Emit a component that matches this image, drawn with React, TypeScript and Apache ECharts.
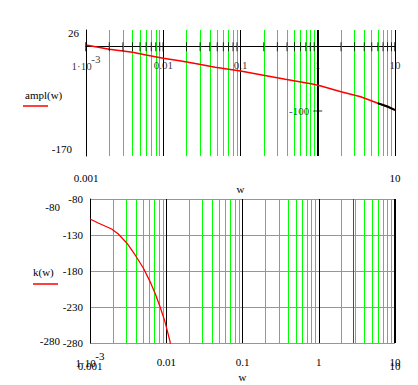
import React, { useEffect, useRef } from 'react';
import * as echarts from 'echarts';

// ---- data ----
const decadeStarts = [0.001, 0.01, 0.1, 1];
const decadeLabels = [0.001, 0.01, 0.1, 1, 10];
const minorSteps = [2, 3, 4, 5, 6, 7, 8, 9];
const blackLinesTop = [0.01, 0.1, 10];
const axisCrossW = 1;
const blackLinesBottom = [0.01, 0.1, 1];
const rightEdgeW = 10;
const markerW = 2.8;

const amplW = [0.001, 0.002, 0.003, 0.004, 0.006, 0.01, 0.017, 0.027, 0.047, 0.1, 0.19, 0.38, 0.85, 1.1, 2, 3.6, 6, 10];
const amplV = [2.7, -4, -6.7, -8.7, -12.9, -18, -22.2, -26.4, -32, -37.8, -44, -50.7, -58, -61.1, -70, -77.7, -88, -98];
const amplBlackW = [6, 8, 10];
const amplBlackV = [-88, -93, -98.5];

const phaseW = [0.001, 0.00128, 0.00192, 0.00235, 0.00303, 0.00389, 0.005, 0.00611, 0.00711, 0.00827, 0.0096, 0.0112, 0.0116];
const phaseV = [-107.8, -113.3, -121.7, -128.6, -141.1, -157.4, -175.8, -194.4, -210.6, -229.2, -250, -277.8, -288];

const amplYMax = 26;
const amplYMin = -170;
const amplMidTick = -100;
const phaseYMax = -80;
const phaseYMin = -280;
const phaseYLabels = [-80, -130, -180, -230, -280];
const xEndLabels = [0.001, 10];

const FONT = 'Liberation Serif';
const FS = 11;
const GREEN = '#00ff00';
const RED = '#ff0000';

const isMin = (v: number) => Math.abs(v - 0.001) < 1e-9;
const fmt = (v: number) => String(Number(v.toPrecision(6)));

const rich = {
  s: { width: 29, align: 'right', lineHeight: 1, fontSize: FS, fontFamily: FONT, color: '#000' },
  b: { width: 29, align: 'left', lineHeight: 13, fontSize: FS, fontFamily: FONT, color: '#000' },
  n: { lineHeight: 13, fontSize: FS, fontFamily: FONT, color: '#000' },
};
const decadeFormatter = (v: number) => (isMin(v) ? '{s|-3}\n{b|1·10}' : '{n|' + fmt(v) + '}');

export default function App() {
  const ref = useRef<HTMLDivElement>(null);
  useEffect(() => {
    const chart = echarts.init(ref.current!, null, { renderer: 'svg' });
    const minorW = decadeStarts.flatMap((d) => minorSteps.map((m) => Number((d * m).toPrecision(3))));
    const allGridW = [...decadeStarts, ...minorW, rightEdgeW];

    const txt = { fontFamily: FONT, fontSize: FS, color: '#000' };
    const font = `${FS}px "${FONT}"`;

    const topLines = [
      ...minorW.map((w) => ({ xAxis: w, lineStyle: { color: GREEN, width: 1, type: 'solid' } })),
      ...blackLinesTop.map((w) => ({ xAxis: w, lineStyle: { color: '#000', width: 1, type: 'solid' } })),
      { xAxis: axisCrossW, lineStyle: { color: '#000', width: 2, type: 'solid' } },
    ];
    const bottomLines = [
      ...minorW.map((w) => ({ xAxis: w, lineStyle: { color: GREEN, width: 1, type: 'solid' } })),
      ...blackLinesBottom.map((w) => ({ xAxis: w, lineStyle: { color: '#000', width: 1, type: 'solid' } })),
      { xAxis: rightEdgeW, lineStyle: { color: '#000', width: 2, type: 'solid' } },
      { xAxis: markerW, lineStyle: { color: RED, width: 1, type: 'solid' } },
    ];

    const logX = { type: 'log', logBase: 10, min: 0.001, max: 10 };
    const limitText = (value: number, right: number, cy: number) => ({
      type: 'text', x: right, y: cy,
      style: { text: String(value), font, fill: '#000', align: 'right', verticalAlign: 'middle' },
    });

    chart.setOption({
      animation: false,
      grid: [
        { left: 86, top: 30, width: 309, height: 126 },
        { left: 90, top: 199, width: 305, height: 144 },
      ],
      xAxis: [
        {
          ...logX, gridIndex: 0, position: 'bottom',
          axisLine: { show: true, onZero: true, lineStyle: { color: '#000', width: 1 } },
          axisTick: { show: false }, splitLine: { show: false },
          axisLabel: { show: false },
        },
        {
          ...logX, gridIndex: 0, position: 'bottom',
          axisLine: { show: false, onZero: false }, axisTick: { show: false }, splitLine: { show: false },
          axisLabel: { ...txt, margin: 16, customValues: xEndLabels, formatter: (v: number) => fmt(v) },
          name: 'w', nameLocation: 'middle', nameGap: 20, nameTextStyle: txt,
        },
        {
          ...logX, gridIndex: 1, position: 'bottom',
          axisLine: { show: false, onZero: false }, axisTick: { show: false }, splitLine: { show: false },
          axisLabel: { ...txt, margin: 12, customValues: decadeLabels, formatter: decadeFormatter, rich },
        },
        {
          ...logX, gridIndex: 1, position: 'bottom',
          axisLine: { show: false, onZero: false }, axisTick: { show: false }, splitLine: { show: false },
          axisLabel: { ...txt, margin: 17, customValues: xEndLabels, formatter: (v: number) => fmt(v) },
          name: 'w', nameLocation: 'middle', nameGap: 19, nameTextStyle: txt,
        },
      ],
      yAxis: [
        {
          type: 'value', gridIndex: 0, min: amplYMin, max: amplYMax, position: 'left',
          axisLine: { show: true, onZero: false, lineStyle: { color: '#000', width: 1 } },
          axisTick: { show: false }, splitLine: { show: false }, axisLabel: { show: false },
        },
        {
          type: 'value', gridIndex: 1, min: phaseYMin, max: phaseYMax, interval: 50, position: 'left',
          axisLine: { show: true, onZero: false, lineStyle: { color: '#000', width: 1 } },
          axisTick: { show: false },
          splitLine: { show: true, lineStyle: { color: GREEN, width: 1 } },
          axisLabel: { ...txt, margin: 7, customValues: phaseYLabels },
        },
      ],
      series: [
        {
          type: 'scatter', xAxisIndex: 0, yAxisIndex: 0, z: 4, silent: true,
          symbol: 'rect', symbolSize: [1, 9], itemStyle: { color: '#000' },
          data: allGridW.map((w) => [w, 0]),
          markLine: { z: 1, silent: true, precision: 8, symbol: 'none', label: { show: false }, data: topLines },
        },
        {
          type: 'scatter', xAxisIndex: 0, yAxisIndex: 0, z: 4, silent: true,
          symbol: 'rect', symbolSize: [1, 9], itemStyle: { color: '#000' },
          data: decadeLabels.map((w) => [w, 0]),
          label: {
            show: true, position: 'bottom', distance: 7, ...txt, rich,
            formatter: (p: any) => decadeFormatter(p.value[0]),
          },
        },
        {
          type: 'scatter', xAxisIndex: 0, yAxisIndex: 0, z: 4, silent: true,
          symbol: 'rect', symbolSize: [9, 1], itemStyle: { color: '#000' },
          data: [[axisCrossW, amplMidTick]],
          label: { show: true, position: 'left', distance: 4, ...txt, formatter: () => String(amplMidTick) },
        },
        {
          type: 'line', xAxisIndex: 0, yAxisIndex: 0, z: 3, showSymbol: false, silent: true,
          lineStyle: { color: RED, width: 1.6 },
          data: amplW.map((w, i) => [w, amplV[i]]),
        },
        {
          type: 'line', xAxisIndex: 0, yAxisIndex: 0, z: 3, showSymbol: false, silent: true,
          lineStyle: { color: '#000', width: 2 },
          data: amplBlackW.map((w, i) => [w, amplBlackV[i]]),
        },
        {
          type: 'line', xAxisIndex: 2, yAxisIndex: 1, z: 3, showSymbol: false, silent: true, clip: true,
          lineStyle: { color: RED, width: 1.3 },
          data: phaseW.map((w, i) => [w, phaseV[i]]),
          markLine: { z: 1, silent: true, precision: 8, symbol: 'none', label: { show: false }, data: bottomLines },
        },
      ],
      graphic: [
        limitText(amplYMax, 79, 33),
        limitText(amplYMin, 72, 149),
        limitText(phaseYMax, 60, 207),
        limitText(phaseYMin, 60, 341),
        { type: 'text', left: 25, top: 89, style: { text: 'ampl(w)', font, fill: '#000' } },
        { type: 'line', shape: { x1: 23, y1: 106, x2: 48, y2: 106 }, style: { stroke: RED, lineWidth: 1.5 } },
        { type: 'text', left: 33, top: 266, style: { text: 'k(w)', font, fill: '#000' } },
        { type: 'line', shape: { x1: 33, y1: 284, x2: 58, y2: 284 }, style: { stroke: RED, lineWidth: 1.5 } },
      ],
    });
    return () => chart.dispose();
  }, []);
  return <div ref={ref} style={{ position: 'absolute', left: 0, top: 0, width: 418, height: 385 }} />;
}
